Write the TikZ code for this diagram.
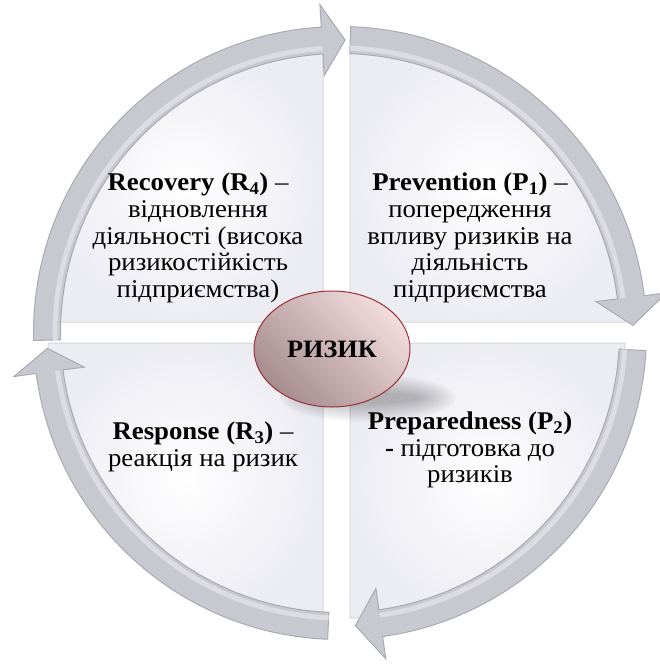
\documentclass[tikz,border=0pt]{standalone}
\usepackage{fontspec}
\setmainfont{Liberation Serif}[FakeStretch=1.05]
\usetikzlibrary{shapes.geometric}
\definecolor{arrowfill}{RGB}{200,200,208}
\definecolor{arrowedge}{RGB}{170,170,180}
\definecolor{arrowlight}{RGB}{220,220,226}
\definecolor{quadedge}{RGB}{212,212,220}
\definecolor{quadfill}{RGB}{255,255,255}
\definecolor{quadshade}{RGB}{236,236,243}
\definecolor{ellA}{RGB}{166,140,143}
\definecolor{ellB}{RGB}{242,220,220}
\definecolor{elledge}{RGB}{155,50,50}
\newcommand\ringarrow[3]{%
  \draw[ringarrowstyle] (#1:279.5) arc[start angle=#1, end angle=#2, radius=279.5]
    -- (#2:258) -- (#3:293) -- (#2:329) -- (#2:306.5)
    arc[start angle=#2, end angle=#1, radius=306.5] -- cycle;
  \draw[ringlight] (#1:285) arc[start angle=#1, end angle=#2, radius=285];}
\begin{document}
\begin{tikzpicture}[x=1pt,y=-1pt,
  quad/.style={draw=quadedge, line width=1pt, inner color=quadfill, outer color=quadshade},
  ringarrowstyle/.style={fill=arrowfill, draw=arrowedge, line width=1pt, line join=miter},
  ringlight/.style={draw=arrowlight, line width=5pt},
  softshadow/.style={fill=black, opacity=0.028},
  quadtext/.style={align=center, font=\fontsize{25.5}{26.7}\selectfont, inner sep=0pt}]
\useasboundingbox (0,0) rectangle (659,669);
% quadrants
\path[quad] (323,322) -- ++(-275,0) arc[start angle=180, end angle=270, radius=275] -- cycle;
\path[quad] (350,322) -- ++(0,-275) arc[start angle=270, end angle=360, radius=275] -- cycle;
\path[quad] (350,343) -- ++(275,0) arc[start angle=0, end angle=90, radius=275] -- cycle;
\path[quad] (323,343) -- ++(0,275) arc[start angle=90, end angle=180, radius=275] -- cycle;
% ring arrows
\begin{scope}[shift={(340,333)}]
  \ringarrow{178.6}{266.5}{271}
  \ringarrow{272}{353}{358.5}
  \ringarrow{3.3}{82}{87}
  \ringarrow{92.3}{172.4}{177}
\end{scope}
% texts
\node[quadtext] (rec) at (198,238) {\textbf{Recovery (R\textsubscript{4})} –\\відновлення\\діяльності (висока\\ризикостійкість\\підприємства)};
\node[quadtext] (prev) at (470,238) {\textbf{Prevention (P\textsubscript{1})} –\\попередження\\впливу ризиків на\\діяльність\\підприємства};
\node[quadtext] (resp) at (203,447) {\textbf{Response (R\textsubscript{3})} –\\реакція на ризик};
\node[quadtext] (prep) at (470,450) {\textbf{Preparedness (P\textsubscript{2})}\\\textbf{-} підготовка до\\ризиків};
% soft shadow of the centre
\foreach \k in {0,...,9} {
  \fill[softshadow] (368,398) ellipse[x radius={88-4*\k}, y radius={24-2*\k}];
}
% centre
\node[ellipse, minimum width=156pt, minimum height=116pt, draw=elledge, line width=1pt,
      top color=ellB, bottom color=ellA, shading angle=-45,
      font=\fontsize{25}{28}\selectfont\bfseries] (risk) at (332,349) {РИЗИК};
\end{tikzpicture}
\end{document}
